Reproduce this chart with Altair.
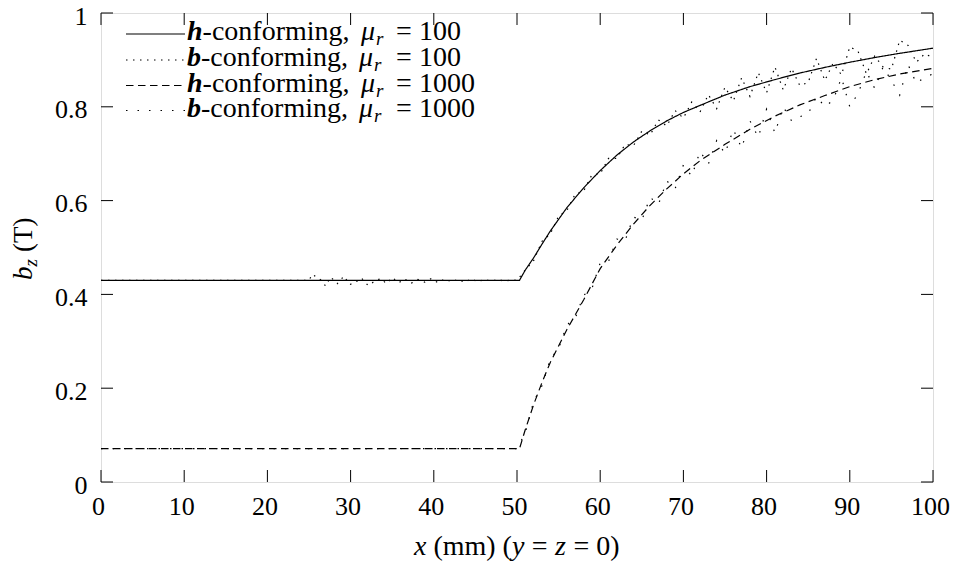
import altair as alt
import pandas as pd

# ---------------- data ----------------
X_TICKS = [0, 10, 20, 30, 40, 50, 60, 70, 80, 90, 100]
Y_TICKS = [0, 0.2, 0.4, 0.6, 0.8, 1.0]
SERIES = ["h100", "b100", "h1000", "b1000"]

H100 = [(0, 0.430), (50.3, 0.430), (51, 0.452), (52, 0.478), (53, 0.507), (54, 0.535),
        (56, 0.585), (58, 0.627), (60, 0.664), (62, 0.697), (64, 0.725), (66, 0.749),
        (68, 0.770), (70, 0.788), (72, 0.803), (75, 0.825), (78, 0.843), (81, 0.858),
        (84, 0.872), (87, 0.884), (90, 0.895), (93, 0.905), (96, 0.914), (100, 0.925)]

H1000 = [(0, 0.071), (50.3, 0.071), (51, 0.112), (52, 0.165), (53, 0.212), (54, 0.255),
         (56, 0.325), (58, 0.388), (60, 0.455), (62, 0.505), (64, 0.550), (66, 0.590),
         (68, 0.625), (70, 0.657), (72, 0.685), (75, 0.720), (78, 0.752), (81, 0.780),
         (84, 0.804), (87, 0.824), (90, 0.843), (93, 0.858), (96, 0.870), (100, 0.882)]

B100 = [(0, 0.430), (25.0, 0.430), (25.4, 0.443), (26.4, 0.431), (27.0, 0.418), (27.6, 0.437),
        (28.4, 0.423), (29.2, 0.439), (29.9, 0.421), (30.6, 0.426), (31.3, 0.435), (32.1, 0.419),
        (32.8, 0.427), (33.6, 0.434), (34.3, 0.423), (35.0, 0.436), (35.8, 0.425), (36.5, 0.433),
        (37.3, 0.424), (38.1, 0.432), (38.9, 0.426), (39.7, 0.434), (40.5, 0.425), (41.3, 0.433),
        (42.1, 0.427), (42.9, 0.432), (43.7, 0.426), (44.5, 0.433), (45.3, 0.427), (46.1, 0.432),
        (46.9, 0.428), (47.7, 0.432), (48.5, 0.428), (49.3, 0.431), (50.0, 0.430),
        (51, 0.452), (52, 0.472), (53, 0.513), (54, 0.529), (55, 0.567), (56, 0.579),
        (57, 0.614), (58, 0.620), (59, 0.655), (60, 0.657), (61, 0.690), (62, 0.690),
        (63, 0.720), (64, 0.717), (65, 0.748), (66, 0.740), (67, 0.772), (68, 0.759),
        (69, 0.792), (70, 0.776), (71, 0.810), (72, 0.789), (73, 0.826), (74, 0.796),
        (75, 0.842), (76, 0.812), (77, 0.862), (78, 0.822), (79, 0.873), (80, 0.830),
        (81, 0.885), (82, 0.836), (83, 0.882), (84, 0.845), (85, 0.852), (86, 0.903),
        (87, 0.856), (88, 0.893), (89, 0.868), (90, 0.928), (91, 0.918), (92, 0.870),
        (93, 0.908), (94, 0.885), (95, 0.880), (96, 0.942), (97, 0.931), (98, 0.895),
        (99, 0.913), (100, 0.905)]

B1000 = [(0, 0.071), (50.0, 0.071),
         (51, 0.105), (52, 0.172), (53, 0.205), (54, 0.262), (55, 0.285), (56, 0.335),
         (57, 0.349), (58, 0.398), (59, 0.412), (60, 0.467), (61, 0.470), (62, 0.518),
         (63, 0.515), (64, 0.565), (65, 0.558), (66, 0.607), (67, 0.592), (68, 0.642),
         (69, 0.625), (70, 0.676), (71, 0.652), (72, 0.705), (73, 0.678), (74, 0.728),
         (75, 0.700), (76, 0.752), (77, 0.712), (78, 0.770), (79, 0.735), (80, 0.795),
         (81, 0.744), (82, 0.800), (83, 0.770), (84, 0.779), (85, 0.785), (86, 0.822),
         (87, 0.800), (88, 0.814), (89, 0.862), (90, 0.800), (91, 0.829), (92, 0.875),
         (93, 0.839), (94, 0.885), (95, 0.856), (96, 0.825), (97, 0.890), (98, 0.850),
         (99, 0.863), (100, 0.870)]

LEG_LETTERS = ["h", "b", "h", "b"]
LEG_VALUES = ["100", "100", "1000", "1000"]

# ---------------- layout / style ----------------
W, H = 832, 469
FONT = "Liberation Serif"
DASHES = [[1, 0], [1.5, 5.5], [7.5, 4.5], [1.5, 10]]

rows = []
for name, pts in zip(SERIES, [H100, B100, H1000, B1000]):
    for x, y in pts:
        rows.append({"series": name, "x": x, "y": y})
df = pd.DataFrame(rows)

xs = alt.Scale(domain=[0, 100], nice=False, zero=False)
ys = alt.Scale(domain=[0, 1], nice=False, zero=False)
dash_scale = alt.Scale(domain=SERIES, range=DASHES)

X_AX = alt.Axis(values=X_TICKS, format="d", ticks=False, tickSize=0, domain=False, grid=False,
                labelFont=FONT, labelFontSize=26, labelColor="black", labelPadding=11,
                labelOffset=-3, labelFlush=False, title=None)
Y_AX = alt.Axis(values=Y_TICKS, format=".1~f", ticks=False, tickSize=0, domain=False, grid=False,
                labelFont=FONT, labelFontSize=26, labelColor="black", labelPadding=14,
                labelOffset=3, labelFlush=False, title=None)

layers = []

lines = alt.Chart(df).mark_line(color="black", strokeWidth=1.2, clip=True).encode(
    x=alt.X("x:Q", scale=xs, axis=X_AX),
    y=alt.Y("y:Q", scale=ys, axis=Y_AX),
    strokeDash=alt.StrokeDash("series:N", scale=dash_scale, legend=None),
)
layers.append(lines)

# inward ticks on all four sides
xt = pd.DataFrame({"x": X_TICKS})
yt = pd.DataFrame({"y": Y_TICKS})
TL = 12
for (ya, yb) in [(H, H - TL), (0, TL)]:
    layers.append(alt.Chart(xt).mark_rule(color="black", strokeWidth=1).encode(
        x=alt.X("x:Q", scale=xs, axis=X_AX), y=alt.value(ya), y2=alt.value(yb)))
for (xa, xb) in [(0, TL), (W, W - TL)]:
    layers.append(alt.Chart(yt).mark_rule(color="black", strokeWidth=1).encode(
        y=alt.Y("y:Q", scale=ys, axis=Y_AX), x=alt.value(xa), x2=alt.value(xb)))

ONE = pd.DataFrame({"a": [0]})


def txt(t, px, py, size=27, style="normal", weight="normal", align="left", angle=0):
    m = dict(text=t, font=FONT, fontSize=size, fontStyle=style, fontWeight=weight,
             align=align, baseline="alphabetic", color="black")
    if angle:
        m["angle"] = angle
    return alt.Chart(ONE).mark_text(**m).encode(x=alt.value(px), y=alt.value(py))


# legend (plot origin is at page (101, 13))
SAMPLE_Y = [21, 47, 72.5, 97.5]
LFS = 28
for i in range(4):
    sy = SAMPLE_Y[i]
    by = sy + 6
    layers.append(alt.Chart(ONE).mark_rule(color="black", strokeWidth=1.2,
                                           strokeDash=DASHES[i]).encode(
        x=alt.value(25), x2=alt.value(84), y=alt.value(sy)))
    is_h = LEG_LETTERS[i] == "h"
    layers.append(txt(LEG_LETTERS[i], 86, by, LFS, "italic", "bold"))
    layers.append(txt("-conforming,", 101.6 if is_h else 100, by, LFS))
    mu_x = 260 if is_h else 258
    layers.append(txt("\u03bc", mu_x, by, LFS, "italic"))
    layers.append(txt("r", mu_x + 15, by + 5, 19, "italic"))
    layers.append(txt("=", 303, by, LFS, align="center"))
    layers.append(txt(LEG_VALUES[i], 318, by, LFS))

# x-axis title
TB = 542
TFS = 28
layers.append(txt("x", 313, TB, TFS, "italic"))
layers.append(txt("(mm) (", 332.4, TB, TFS))
layers.append(txt("y", 410.9, TB, TFS, "italic"))
layers.append(txt("=", 430.8, TB, TFS))
layers.append(txt("z", 454.1, TB, TFS, "italic"))
layers.append(txt("= 0)", 472.5, TB, TFS))

# y-axis title (rotated)
layers.append(txt("b", -69, 267, 27, "italic", angle=270))
layers.append(txt("z", -64, 253.5, 19, "italic", angle=270))
layers.append(txt("(T)", -69, 239, 27, angle=270))

chart = alt.layer(*layers).properties(
    width=W, height=H,
    padding={"left": 93, "top": 5, "right": 18, "bottom": 80},
    autosize=alt.AutoSizeParams(type="none"),
).configure_view(stroke="black", strokeWidth=1.3).configure(background="white")

chart.save("out.html", embed_options={"renderer": "svg", "actions": False})
